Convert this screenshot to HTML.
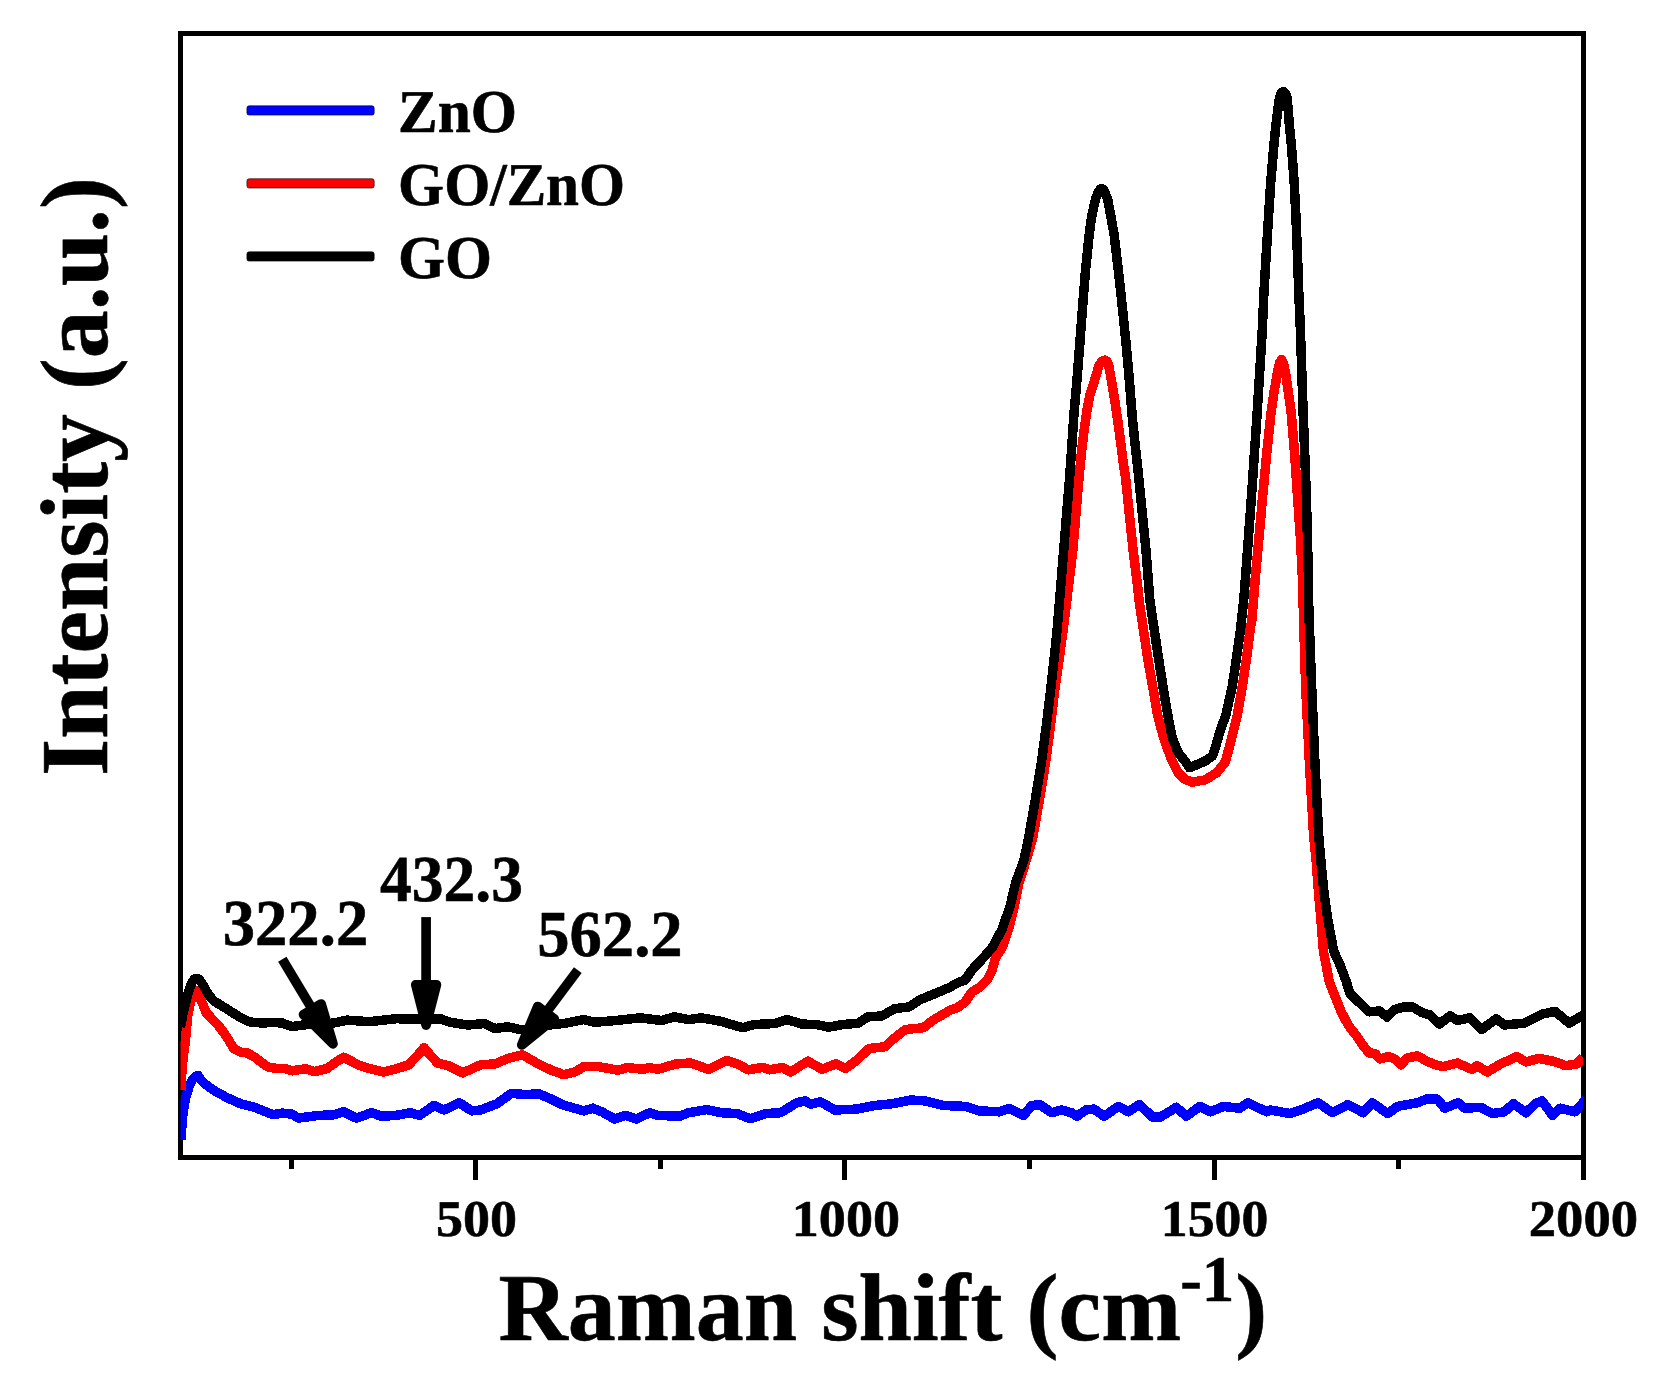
<!DOCTYPE html>
<html lang="en"><head><meta charset="utf-8"><title>Raman spectra</title>
<style>html,body{margin:0;padding:0;background:#fff}svg{display:block}</style></head>
<body>
<svg width="1659" height="1384" viewBox="0 0 1659 1384" shape-rendering="crispEdges">
<rect width="1659" height="1384" fill="#fff"/>
<defs><clipPath id="c"><rect x="180.5" y="33.0" width="1403.0" height="1124.4"/></clipPath></defs>
<rect x="180.5" y="33.0" width="1403.0" height="1124.4" fill="none" stroke="#000" stroke-width="5"/>
<line x1="475.5" y1="1157.4" x2="475.5" y2="1179.5" stroke="#000" stroke-width="5"/>
<line x1="844.9" y1="1157.4" x2="844.9" y2="1179.5" stroke="#000" stroke-width="5"/>
<line x1="1214.1" y1="1157.4" x2="1214.1" y2="1179.5" stroke="#000" stroke-width="5"/>
<line x1="1583.5" y1="1157.4" x2="1583.5" y2="1179.5" stroke="#000" stroke-width="5"/>
<line x1="291.3" y1="1157.4" x2="291.3" y2="1168.7" stroke="#000" stroke-width="5"/>
<line x1="660.0" y1="1157.4" x2="660.0" y2="1168.7" stroke="#000" stroke-width="5"/>
<line x1="1029.5" y1="1157.4" x2="1029.5" y2="1168.7" stroke="#000" stroke-width="5"/>
<line x1="1398.6" y1="1157.4" x2="1398.6" y2="1168.7" stroke="#000" stroke-width="5"/>
<g fill="none" stroke-linejoin="round" stroke-linecap="butt" clip-path="url(#c)">
<polyline stroke="#0000ff" stroke-width="9.5" points="181.2,1139.9 181.9,1124.8 183.3,1111.0 185.7,1097.3 189.2,1086.3 192.6,1079.5 195.5,1076.3 198.1,1075.5 201.5,1080.8 205.0,1083.9 213.2,1090.0 226.9,1097.6 240.7,1103.8 254.4,1107.2 268.1,1112.7 273.6,1114.7 281.8,1113.1 292.0,1114.1 298.4,1118.1 318.3,1115.4 332.7,1115.0 343.6,1111.8 356.3,1118.1 371.6,1112.7 381.6,1116.3 396.0,1115.4 410.5,1112.7 419.5,1115.4 434.0,1105.5 444.0,1110.0 459.3,1102.7 471.7,1110.9 480.7,1110.0 497.0,1103.7 511.5,1093.3 526.0,1094.6 538.6,1093.7 551.3,1099.1 562.1,1104.6 583.8,1110.9 592.9,1108.2 601.9,1111.8 614.6,1119.0 625.4,1115.4 636.3,1119.0 649.8,1112.7 658.0,1115.4 679.7,1116.3 688.7,1112.7 706.8,1109.6 721.2,1112.7 737.2,1113.6 749.9,1118.7 766.2,1113.6 780.6,1112.7 796.9,1102.7 805.0,1100.9 810.5,1104.2 820.4,1101.8 834.9,1110.0 856.6,1109.1 874.7,1105.5 892.7,1103.7 910.8,1100.0 925.3,1100.9 943.4,1105.5 965.1,1106.4 979.5,1110.9 999.4,1111.8 1009.4,1108.5 1023.6,1115.4 1031.7,1105.5 1039.8,1104.6 1051.6,1112.7 1061.5,1110.0 1071.5,1112.7 1076.9,1116.3 1086.0,1110.0 1094.1,1109.1 1104.0,1116.3 1118.5,1106.4 1128.4,1111.8 1139.3,1104.6 1152.9,1117.2 1160.1,1117.2 1176.4,1107.3 1186.3,1116.3 1199.9,1106.4 1210.7,1111.8 1223.4,1106.4 1239.7,1108.2 1247.8,1102.7 1266.8,1111.8 1270.4,1110.0 1290.3,1113.6 1302.9,1109.1 1318.1,1102.7 1332.5,1112.7 1347.9,1104.6 1363.3,1112.7 1372.3,1102.7 1387.7,1113.6 1397.6,1106.4 1417.5,1102.7 1426.6,1099.1 1437.4,1099.1 1444.7,1108.2 1458.2,1102.7 1464.6,1108.2 1480.8,1107.3 1492.6,1113.6 1504.3,1111.8 1513.4,1103.7 1526.0,1112.7 1535.1,1103.7 1542.3,1100.9 1552.3,1115.4 1560.4,1108.2 1574.9,1111.8 1583.0,1102.7 1588.0,1097.0"/>
<polyline stroke="#ff0000" stroke-width="9.5" points="181.2,1090.4 181.9,1069.8 183.3,1056.1 185.2,1042.4 187.8,1014.9 190.8,1001.2 194.0,994.0 196.4,990.5 199.0,995.0 201.5,1001.2 206.3,1012.9 213.2,1020.0 220.1,1027.6 226.9,1037.2 233.8,1048.6 240.7,1052.1 247.5,1053.1 254.4,1056.9 261.2,1062.3 268.1,1067.0 276.4,1068.5 286.0,1068.7 292.0,1070.8 305.6,1068.8 314.7,1071.6 327.3,1068.4 336.0,1062.0 343.6,1057.2 351.0,1061.0 358.0,1064.8 368.9,1068.4 383.4,1072.0 397.8,1068.4 408.7,1064.8 417.0,1056.0 424.0,1047.6 431.0,1056.0 437.6,1063.0 448.5,1065.7 462.7,1072.9 480.7,1064.8 495.2,1063.9 507.9,1058.4 522.3,1054.8 536.8,1063.0 551.3,1070.2 563.9,1074.7 574.8,1072.0 583.8,1066.6 598.3,1066.6 618.2,1070.2 627.2,1067.5 643.5,1069.3 648.9,1067.5 658.0,1069.3 676.0,1063.9 690.5,1063.0 708.6,1069.3 726.7,1060.3 739.3,1064.8 748.1,1069.8 762.5,1067.5 769.8,1069.8 782.4,1067.5 790.6,1072.0 807.8,1061.2 822.2,1069.3 835.8,1063.9 845.7,1068.4 856.6,1060.3 869.2,1048.5 885.5,1046.7 892.7,1039.5 905.4,1029.5 923.5,1027.7 932.5,1020.5 950.0,1010.3 956.9,1008.0 965.0,1002.2 972.0,991.8 980.1,987.2 987.0,980.2 992.2,969.8 995.3,958.3 1002.6,946.7 1008.4,929.4 1014.2,906.2 1018.8,883.1 1026.3,860.0 1032.7,837.9 1039.3,800.3 1045.5,762.7 1050.5,725.2 1055.0,687.6 1059.0,660.0 1063.7,625.5 1072.8,550.3 1078.8,480.0 1081.6,451.3 1084.0,431.1 1086.9,410.8 1089.7,395.7 1094.5,380.5 1099.1,365.3 1102.0,361.3 1105.1,360.2 1107.0,361.3 1108.7,365.3 1111.4,380.5 1114.8,400.7 1117.8,420.9 1120.5,441.2 1123.1,461.4 1125.6,478.0 1133.1,550.3 1137.8,587.9 1139.0,600.0 1143.3,628.9 1147.6,657.8 1152.7,686.7 1157.7,715.6 1163.5,737.3 1171.2,759.0 1177.7,772.0 1184.9,779.2 1192.1,782.1 1205.2,779.9 1216.7,772.7 1225.4,761.9 1230.0,744.5 1237.2,715.6 1242.3,686.7 1246.6,657.8 1250.2,628.9 1251.9,620.0 1255.0,581.5 1258.8,539.6 1262.5,497.7 1266.5,455.8 1270.9,413.8 1273.9,392.9 1277.6,371.9 1279.5,363.0 1281.4,359.7 1283.4,363.0 1285.4,371.9 1288.5,392.9 1291.3,413.8 1294.8,455.8 1297.6,497.7 1300.5,539.6 1302.6,581.5 1303.3,610.0 1305.6,685.2 1309.3,760.3 1313.6,835.5 1316.1,860.0 1318.4,890.4 1321.0,920.7 1323.4,951.1 1329.2,981.4 1335.1,996.6 1341.3,1011.8 1348.4,1025.5 1356.8,1036.1 1362.9,1045.2 1368.9,1052.8 1375.0,1053.5 1379.6,1058.9 1388.7,1056.6 1394.7,1058.9 1400.8,1064.9 1406.9,1058.1 1417.5,1055.8 1426.6,1061.1 1435.7,1064.9 1442.9,1066.6 1457.3,1063.0 1471.8,1069.3 1477.2,1065.7 1487.2,1072.0 1500.7,1063.9 1517.0,1056.6 1526.0,1062.0 1538.7,1058.4 1553.2,1061.2 1565.8,1065.7 1576.7,1063.9 1583.0,1057.5"/>
<polyline stroke="#000000" stroke-width="9.5" points="180.5,1027.0 182.5,1016.0 185.0,1005.3 188.5,991.6 191.9,982.7 194.2,979.3 196.4,978.3 198.4,979.0 200.1,980.6 203.3,985.4 207.0,992.3 213.2,1000.5 226.9,1009.0 240.7,1017.7 250.3,1022.1 261.2,1022.9 273.6,1022.6 281.8,1022.9 292.0,1026.6 311.0,1024.0 332.7,1023.2 347.2,1020.1 368.9,1021.7 396.0,1018.7 423.2,1019.2 441.2,1019.0 450.0,1022.3 468.1,1025.0 484.4,1023.5 495.2,1028.6 507.9,1026.8 522.3,1030.0 549.5,1025.0 565.7,1023.2 583.8,1019.6 594.7,1022.3 616.4,1020.5 639.9,1017.8 661.6,1020.5 674.2,1016.9 688.7,1019.6 701.4,1017.8 721.2,1021.4 730.0,1024.1 742.7,1027.7 753.5,1024.6 775.2,1023.5 787.0,1019.6 802.3,1024.1 816.8,1024.6 828.6,1027.2 842.1,1024.6 858.4,1023.2 867.4,1016.9 881.9,1015.9 894.6,1008.7 909.0,1006.9 919.9,999.7 938.0,992.4 950.0,987.2 958.1,982.5 965.0,980.2 972.0,969.8 982.9,958.3 992.8,946.7 1002.0,929.4 1010.1,906.2 1015.5,883.1 1024.0,860.0 1028.6,837.9 1035.2,800.3 1041.4,762.7 1046.4,725.2 1050.9,687.6 1055.1,650.0 1057.5,625.5 1063.7,550.3 1069.8,475.2 1074.2,410.8 1076.5,385.5 1079.5,347.9 1082.3,310.3 1085.3,272.8 1089.1,235.2 1091.7,216.4 1095.4,199.5 1098.3,192.0 1100.0,189.3 1101.5,188.5 1103.0,189.3 1104.8,192.0 1107.7,199.5 1110.9,216.4 1114.2,235.2 1118.6,272.8 1122.7,310.3 1126.5,347.9 1129.8,385.5 1132.5,420.1 1138.5,475.2 1146.0,550.3 1149.8,600.0 1154.1,628.9 1158.5,657.8 1163.0,686.7 1167.9,715.6 1172.2,737.3 1177.7,751.8 1185.6,761.9 1189.3,767.7 1196.5,764.8 1205.2,761.1 1212.4,756.1 1216.3,744.5 1220.3,730.1 1225.7,715.6 1232.2,686.7 1236.5,657.8 1240.6,628.9 1243.7,600.0 1245.2,581.5 1251.4,497.7 1257.1,413.8 1262.3,330.0 1263.8,295.5 1266.0,257.9 1268.3,220.3 1270.7,182.8 1273.9,145.2 1275.8,126.4 1278.1,107.6 1279.4,98.2 1281.2,93.2 1283.3,91.5 1285.4,93.2 1287.1,98.2 1288.0,107.6 1289.5,126.4 1291.4,145.2 1294.2,182.8 1296.1,220.3 1297.6,257.9 1298.9,295.5 1300.4,330.0 1303.2,413.8 1306.4,497.7 1308.5,581.5 1308.8,610.0 1311.6,685.2 1314.8,760.3 1318.7,835.5 1320.8,860.0 1323.7,890.4 1328.0,920.7 1333.7,951.1 1340.6,966.3 1346.2,981.4 1350.0,993.6 1356.8,1000.4 1362.9,1005.7 1368.9,1011.8 1379.6,1011.0 1387.2,1017.1 1394.7,1009.5 1403.9,1006.9 1413.0,1007.2 1422.1,1012.6 1429.7,1014.8 1439.5,1023.9 1450.1,1015.9 1457.3,1020.5 1470.0,1017.8 1481.7,1029.5 1496.2,1018.7 1504.3,1025.0 1524.2,1023.2 1542.3,1014.1 1555.0,1011.4 1569.4,1023.2 1583.0,1015.0 1588.0,1012.0"/>
</g>
<g font-family="'Liberation Serif', 'Times New Roman', serif" font-weight="bold" fill="#000" stroke="#000" stroke-width="0.6" stroke-linejoin="round" text-rendering="geometricPrecision">
<text transform="translate(435.91,1236.40) scale(1.0485,1)" font-size="51.50">500</text>
<text transform="translate(791.80,1236.40) scale(1.0505,1)" font-size="51.50">1000</text>
<text transform="translate(1160.85,1236.40) scale(1.0427,1)" font-size="51.50">1500</text>
<text transform="translate(1528.75,1236.40) scale(1.0617,1)" font-size="51.50">2000</text>
<text transform="translate(498.50,1339.80) scale(1.0000,1)" font-size="96.00">Raman shift (cm<tspan font-size="65" dy="-38.7" dx="-0.9">-1</tspan><tspan dy="38.7" dx="0.9">)</tspan></text>
<text transform="translate(107.00,776.00) rotate(-90) scale(0.9980,1)" font-size="96.00">Intensity (a.u.)</text>
<rect x="246.9" y="105.80" width="127.3" height="9.3" rx="2.2" fill="#0000ff" shape-rendering="auto"/>
<text transform="translate(398.00,131.90) scale(0.9779,1)" font-size="60.80">ZnO</text>
<rect x="246.9" y="178.75" width="127.3" height="9.3" rx="2.2" fill="#ff0000" shape-rendering="auto"/>
<text transform="translate(398.08,205.00) scale(0.9738,1)" font-size="60.80">GO/ZnO</text>
<rect x="246.9" y="251.80" width="127.3" height="9.3" rx="2.2" fill="#000000" shape-rendering="auto"/>
<text transform="translate(397.99,277.60) scale(0.9938,1)" font-size="60.80">GO</text>
<text transform="translate(222.66,945.00) scale(0.9877,1)" font-size="65.50">322.2</text>
<text transform="translate(380.05,900.80) scale(0.9701,1)" font-size="65.50">432.3</text>
<text transform="translate(537.26,956.00) scale(0.9863,1)" font-size="65.50">562.2</text>
</g>
<g shape-rendering="auto"><line x1="282.3" y1="959.2" x2="312.3" y2="1009.3" stroke="#000" stroke-width="9.7"/><polygon points="333.0,1043.8 303.5,1014.6 321.1,1004.0" fill="#000" stroke="#000" stroke-width="9.7" stroke-linejoin="round"/></g>
<g shape-rendering="auto"><line x1="426.1" y1="917.1" x2="426.1" y2="984.8" stroke="#000" stroke-width="9.7"/><polygon points="426.1,1025.1 415.8,984.8 436.4,984.8" fill="#000" stroke="#000" stroke-width="9.7" stroke-linejoin="round"/></g>
<g shape-rendering="auto"><line x1="577.8" y1="970.2" x2="546.0" y2="1012.7" stroke="#000" stroke-width="9.7"/><polygon points="521.8,1044.9 537.7,1006.5 554.2,1018.8" fill="#000" stroke="#000" stroke-width="9.7" stroke-linejoin="round"/></g>
</svg>
</body></html>
